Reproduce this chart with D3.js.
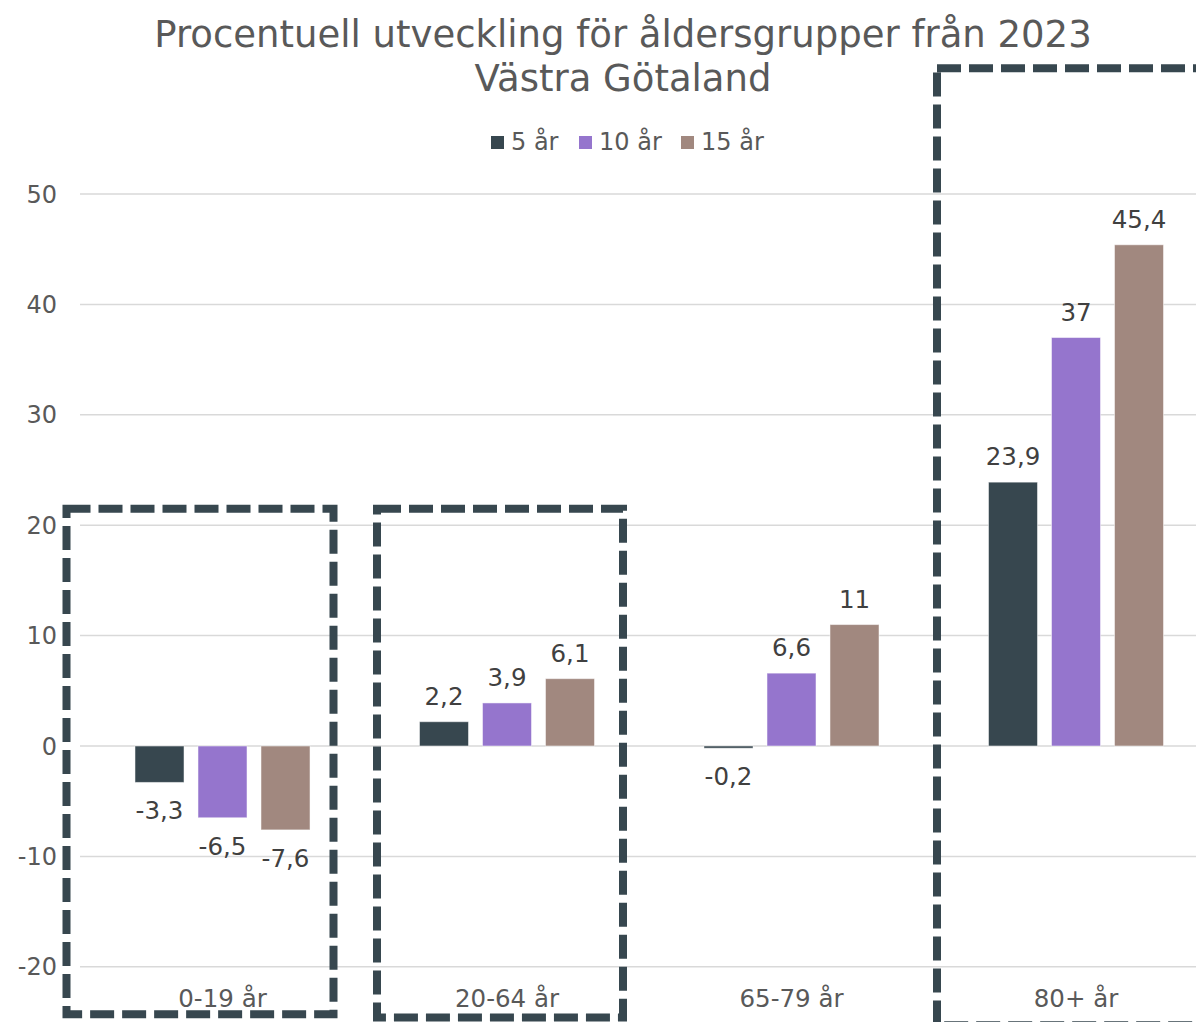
<!DOCTYPE html>
<html>
<head>
<meta charset="utf-8">
<script src="https://cdn.jsdelivr.net/npm/d3@7"></script>
<style>
html,body{margin:0;padding:0;background:#fff;overflow:hidden;}
svg{display:block;font-family:"DejaVu Sans",Verdana,sans-serif;}
</style>
</head>
<body>
<svg id="chart" width="1196" height="1022"></svg>
<script>
const categories = ["0-19 år", "20-64 år", "65-79 år", "80+ år"];
const seriesNames = ["5 år", "10 år", "15 år"];
const values5 = [-3.3, 2.2, -0.2, 23.9];
const values10 = [-6.5, 3.9, 6.6, 37];
const values15 = [-7.6, 6.1, 11, 45.4];
const yTicks = [-20, -10, 0, 10, 20, 30, 40, 50];
const colors = ["#37474F", "#9575CD", "#A1887F"];
const titleLines = ["Procentuell utveckling för åldersgrupper från 2023", "Västra Götaland"];

const seriesValues = [values5, values10, values15];
const fmt = v => String(v).replace(".", ",");

const svg = d3.select("#chart");
const left = 80, bandW = 284.5;
const x0 = d3.scaleBand().domain(categories).range([left, left + bandW * categories.length]);
const x1 = d3.scaleBand().domain(seriesNames).range([48, 237]).paddingInner(0.222).paddingOuter(0.111);
const y = d3.scaleLinear().domain([-20, 50]).range([966.8, 194]);

// gridlines
svg.append("g").selectAll("line").data(yTicks).join("line")
  .attr("x1", left).attr("x2", 1196)
  .attr("y1", d => y(d)).attr("y2", d => y(d))
  .attr("stroke", "#d9d9d9").attr("stroke-width", 1.5);

// y tick labels
svg.append("g").selectAll("text").data(yTicks).join("text")
  .attr("x", 57).attr("y", d => y(d) + 8.5)
  .attr("text-anchor", "end").attr("font-size", 24).attr("fill", "#595959")
  .text(d => d);

// category labels
svg.append("g").selectAll("text").data(categories).join("text")
  .attr("x", d => x0(d) + x1("10 år") + x1.bandwidth() / 2)
  .attr("y", 1007)
  .attr("text-anchor", "middle").attr("font-size", 24.5).attr("fill", "#595959")
  .text(d => d);

// bars
const rows = [];
categories.forEach((c, i) => seriesNames.forEach((s, j) => rows.push({c, s, j, v: seriesValues[j][i]})));

svg.append("g").selectAll("rect").data(rows).join("rect")
  .attr("x", d => x0(d.c) + x1(d.s))
  .attr("width", x1.bandwidth())
  .attr("y", d => y(Math.max(0, d.v)))
  .attr("height", d => Math.abs(y(d.v) - y(0)))
  .attr("fill", d => colors[d.j])
  .attr("stroke", "#ffffff").attr("stroke-opacity", 0.5).attr("stroke-width", 1);

// data labels
svg.append("g").selectAll("text").data(rows).join("text")
  .attr("x", d => x0(d.c) + x1(d.s) + x1.bandwidth() / 2)
  .attr("y", d => d.v >= 0 ? y(d.v) - 17 : y(d.v) + 37)
  .attr("text-anchor", "middle").attr("font-size", 24.5).attr("fill", "#404040")
  .text(d => fmt(d.v));

// title
svg.append("g").selectAll("text").data(titleLines).join("text")
  .attr("x", 623).attr("y", (d, i) => 47 + i * 44)
  .attr("text-anchor", "middle").attr("font-size", 37).attr("fill", "#595959")
  .text(d => d);

// legend
const legendX = [491, 579, 681];
const lg = svg.append("g").selectAll("g").data(seriesNames).join("g")
  .attr("transform", (d, i) => `translate(${legendX[i]},0)`);
lg.append("rect").attr("x", 0).attr("y", 136).attr("width", 13).attr("height", 13)
  .attr("fill", (d, i) => colors[i]);
lg.append("text").attr("x", 20).attr("y", 150).attr("font-size", 24).attr("fill", "#595959")
  .text(d => d);

// dashed highlight boxes (annotations around category groups)
const boxes = [
  {c: "0-19 år", x0: -13.5, x1: -31, top: 21.5, bottom: -24.3},
  {c: "20-64 år", x0: 12.5, x1: -26, top: 21.5, bottom: -24.6},
  {c: "80+ år", x0: 3.5, x1: 40, top: 61.4, bottom: -25.3}
];
svg.append("g").selectAll("rect").data(boxes).join("rect")
  .attr("x", d => x0(d.c) + d.x0)
  .attr("y", d => y(d.top))
  .attr("width", d => x0.bandwidth() + d.x1 - d.x0)
  .attr("height", d => y(d.bottom) - y(d.top))
  .attr("fill", "none").attr("stroke", "#37474F").attr("stroke-width", 8)
  .attr("stroke-dasharray", "24 8");
</script>
</body>
</html>
